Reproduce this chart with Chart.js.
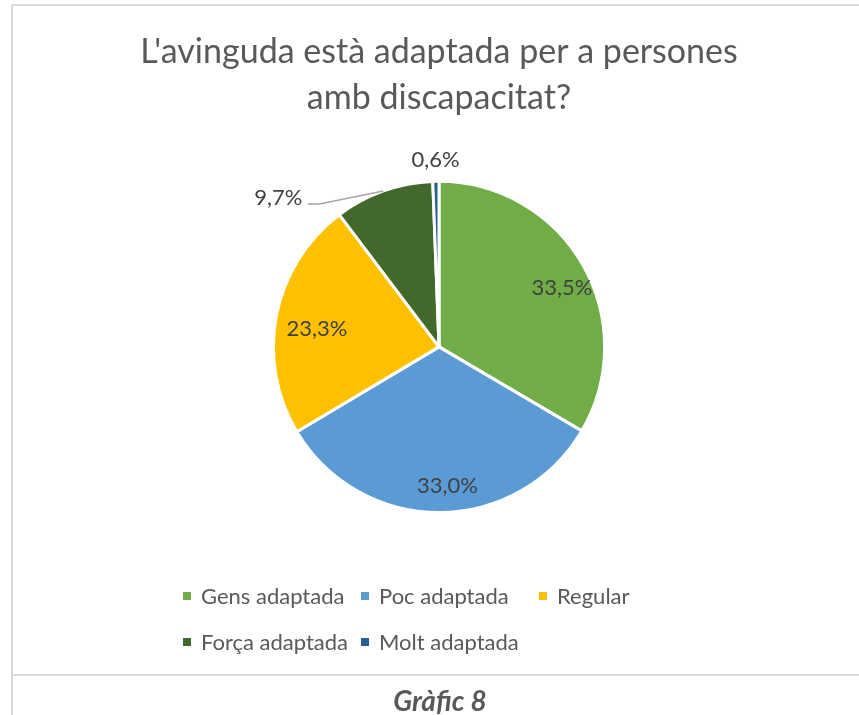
<!DOCTYPE html>
<html>
<head>
<meta charset="utf-8">
<script src="https://cdn.jsdelivr.net/npm/chart.js@4.4.1/dist/chart.umd.min.js"></script>
<style>
    html, body { margin: 0; padding: 0; background: #fff; }
    canvas { display: block; }
</style>
</head>
<body>
<canvas id="chart" width="859" height="715"></canvas>
<script>
const categories = ["Gens adaptada", "Poc adaptada", "Regular", "Força adaptada", "Molt adaptada"];
const percentages = [33.5, 33.0, 23.3, 9.7, 0.6];
const sliceColors = ["#70AD47", "#5B9BD5", "#FFC000", "#43682B", "#255E91"];
const titleLines = ["L'avinguda està adaptada per a persones", "amb discapacitat?"];
const caption = "Gràfic 8";

const FONT = "Lato, 'Open Sans', sans-serif";
const TEXT_GREY = "#595959";

// page frame + caption under the chart
const framePlugin = {
    id: "frame",
    beforeDraw(chart) {
        const ctx = chart.ctx;
        ctx.save();
        ctx.fillStyle = "#fff";
        ctx.fillRect(0, 0, chart.width, chart.height);
        ctx.strokeStyle = "#D9D9D9";
        ctx.lineWidth = 2;
        ctx.beginPath();
        ctx.moveTo(12, 5); ctx.lineTo(chart.width, 5);
        ctx.moveTo(12, 5); ctx.lineTo(12, chart.height);
        ctx.moveTo(12, 675); ctx.lineTo(chart.width, 675);
        ctx.stroke();
        ctx.fillStyle = TEXT_GREY;
        ctx.font = "italic bold 28px " + FONT;
        ctx.textAlign = "center";
        ctx.textBaseline = "middle";
        ctx.fillText(caption, 440, 702);
        ctx.restore();
    }
};

// Excel-style legend: fixed columns, rows left aligned
const legendPlugin = {
    id: "gridLegend",
    afterDraw(chart) {
        const ctx = chart.ctx;
        const cols = [187, 365, 543];
        const rows = [596, 642];
        const colors = chart.data.datasets[0].backgroundColor;
        ctx.save();
        ctx.font = "22px " + FONT;
        ctx.textBaseline = "middle";
        ctx.textAlign = "left";
        chart.data.labels.forEach((label, i) => {
            const x = cols[i % 3];
            const y = rows[Math.floor(i / 3)];
            ctx.fillStyle = colors[i];
            ctx.fillRect(x - 4, y - 4, 8, 8);
            ctx.fillStyle = TEXT_GREY;
            ctx.fillText(label, x + 14, y + 1);
        });
        ctx.restore();
    }
};

function fmt(v) {
    return v.toFixed(1).replace(".", ",") + "%";
}

// percentage labels, small slices outside
const labelPlugin = {
    id: "sliceLabels",
    afterDatasetsDraw(chart) {
        const ctx = chart.ctx;
        const meta = chart.getDatasetMeta(0);
        const values = chart.data.datasets[0].data;
        ctx.save();
        ctx.font = "22px " + FONT;
        ctx.fillStyle = "#404040";
        ctx.textBaseline = "middle";
        meta.data.forEach((arc, i) => {
            const p = arc.getProps(["x", "y", "startAngle", "endAngle", "outerRadius"], true);
            const mid = (p.startAngle + p.endAngle) / 2;
            const text = fmt(values[i]);
            if (values[i] > 15) {
                const r = p.outerRadius * 0.8;
                ctx.textAlign = "center";
                ctx.fillText(text, p.x + Math.cos(mid) * r + 8, p.y + Math.sin(mid) * r + 7);
            } else if (values[i] > 5) {
                const ex = p.x + Math.cos(mid) * p.outerRadius;
                const ey = p.y + Math.sin(mid) * p.outerRadius;
                const bx = ex - 64, by = ey + 13;
                ctx.strokeStyle = "#A6A6A6";
                ctx.lineWidth = 1.5;
                ctx.beginPath();
                ctx.moveTo(ex, ey);
                ctx.lineTo(bx, by);
                ctx.lineTo(bx - 12, by);
                ctx.stroke();
                ctx.textAlign = "right";
                ctx.fillText(text, bx - 17, by - 6);
            } else {
                const r = p.outerRadius + 21;
                ctx.textAlign = "center";
                ctx.fillText(text, p.x + Math.cos(mid) * r, p.y + Math.sin(mid) * r);
            }
        });
        ctx.restore();
    }
};

new Chart(document.getElementById("chart"), {
    type: "pie",
    data: {
        labels: categories,
        datasets: [{
            data: percentages,
            backgroundColor: sliceColors,
            borderColor: "#fff",
            borderWidth: 3
        }]
    },
    options: {
        responsive: false,
        animation: false,
        devicePixelRatio: 1,
        layout: { padding: { left: 30, right: 11, top: 0, bottom: 201 } },
        plugins: {
            legend: { display: false },
            tooltip: { enabled: false },
            title: {
                display: true,
                text: titleLines,
                color: TEXT_GREY,
                font: { family: FONT, size: 34, weight: "normal", lineHeight: 1.35 },
                padding: { top: 29, bottom: 59 }
            }
        }
    },
    plugins: [framePlugin, legendPlugin, labelPlugin]
});
</script>
</body>
</html>
